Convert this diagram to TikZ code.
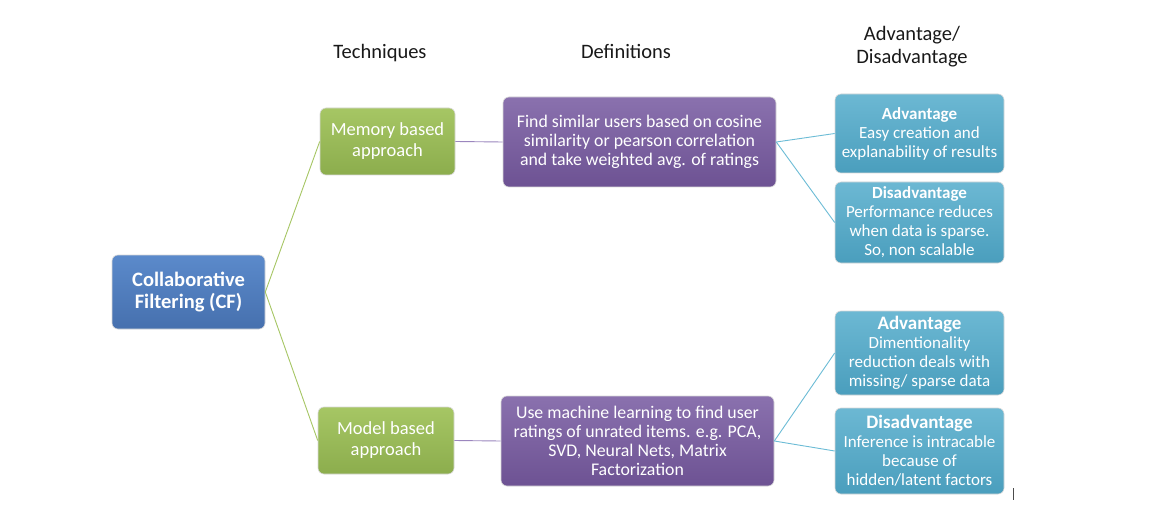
\documentclass[tikz,border=0pt]{standalone}
\usepackage{fontspec}
\setmainfont{Carlito}
\begin{document}
\begin{tikzpicture}[x=1pt,y=-1pt,
  box/.style={rounded corners=6pt, draw=white!85!black, line width=0.6pt, text=white, align=center, inner sep=0pt, font=\fontsize{17}{19}\selectfont},
  bluebox/.style={box, top color=blue1, bottom color=blue2},
  greenbox/.style={box, top color=green1, bottom color=green2},
  purplebox/.style={box, top color=purple1, bottom color=purple2},
  tealbox/.style={box, top color=teal1, bottom color=teal2},
  hdr/.style={align=center, font=\fontsize{20.5}{23}\selectfont, text=black!90},
  link/.style={line width=0.9pt}]
\definecolor{blue1}{HTML}{5B8ACB}\definecolor{blue2}{HTML}{4670AE}
\definecolor{green1}{HTML}{A6C664}\definecolor{green2}{HTML}{8CAD4D}
\definecolor{purple1}{HTML}{8A71AE}\definecolor{purple2}{HTML}{6D5293}
\definecolor{teal1}{HTML}{6CB8D3}\definecolor{teal2}{HTML}{4A9EBD}
\definecolor{glink}{HTML}{A6C664}\definecolor{plink}{HTML}{9B86BE}\definecolor{tlink}{HTML}{6CBCD6}
\useasboundingbox[fill=white] (0,0) rectangle (1168,524);
\node[hdr] (h1) at (380,53) {Techniques};
\node[hdr] (h2) at (626,51) {Definitions};
\node[hdr] (h3) at (912,47) {Advantage/\\Disadvantage};
\node[bluebox, minimum width=153pt, minimum height=74pt, font=\bfseries\fontsize{20.5}{22}\selectfont] (cf) at (188.5,292) {Collaborative\\Filtering (CF)};
\node[greenbox, minimum width=135pt, minimum height=67pt, font=\fontsize{18.5}{21}\selectfont] (mem) at (387.5,141.5) {Memory based\\approach};
\node[greenbox, minimum width=136pt, minimum height=67pt, font=\fontsize{18.5}{21}\selectfont] (mod) at (386,440.5) {Model based\\approach};
\node[purplebox, minimum width=273pt, minimum height=90pt, font=\fontsize{17.8}{19}\selectfont] (d1) at (639.5,142) {Find similar users based on cosine\\similarity or pearson correlation\\and take weighted avg. of ratings};
\node[purplebox, minimum width=273pt, minimum height=90pt, font=\fontsize{17.8}{19}\selectfont] (d2) at (637.5,441) {Use machine learning to find user\\ratings of unrated items. e.g. PCA,\\SVD, Neural Nets, Matrix\\Factorization};
\node[tealbox, minimum width=169pt, minimum height=79pt] (a1) at (919.5,133.5) {{\bfseries Advantage}\\Easy creation and\\explanability of results};
\node[tealbox, minimum width=169pt, minimum height=81pt] (s1) at (919.5,222.5) {{\bfseries Disadvantage}\\Performance reduces\\when data is sparse.\\So, non scalable};
\node[tealbox, minimum width=169pt, minimum height=84pt] (a2) at (919.5,353) {{\bfseries\fontsize{19}{19}\selectfont Advantage}\\Dimentionality\\reduction deals with\\missing/ sparse data};
\node[tealbox, minimum width=169pt, minimum height=86pt] (s2) at (919.5,451) {{\bfseries\fontsize{19}{19}\selectfont Disadvantage}\\Inference is intracable\\because of\\hidden/latent factors};
\draw[link, glink] (cf.east) -- (mem.west);
\draw[link, glink] (cf.east) -- (mod.west);
\draw[link, plink] (mem.east) -- (d1.west);
\draw[link, plink] (mod.east) -- (d2.west);
\draw[link, tlink] (d1.east) -- (a1.west);
\draw[link, tlink] (d1.east) -- (s1.west);
\draw[link, tlink] (d2.east) -- (a2.west);
\draw[link, tlink] (d2.east) -- (s2.west);
\coordinate (m1) at (1013,488);
\coordinate (m2) at (1013,500);
\draw[line width=0.8pt, black!70] (m1) -- (m2);
\end{tikzpicture}
\end{document}
